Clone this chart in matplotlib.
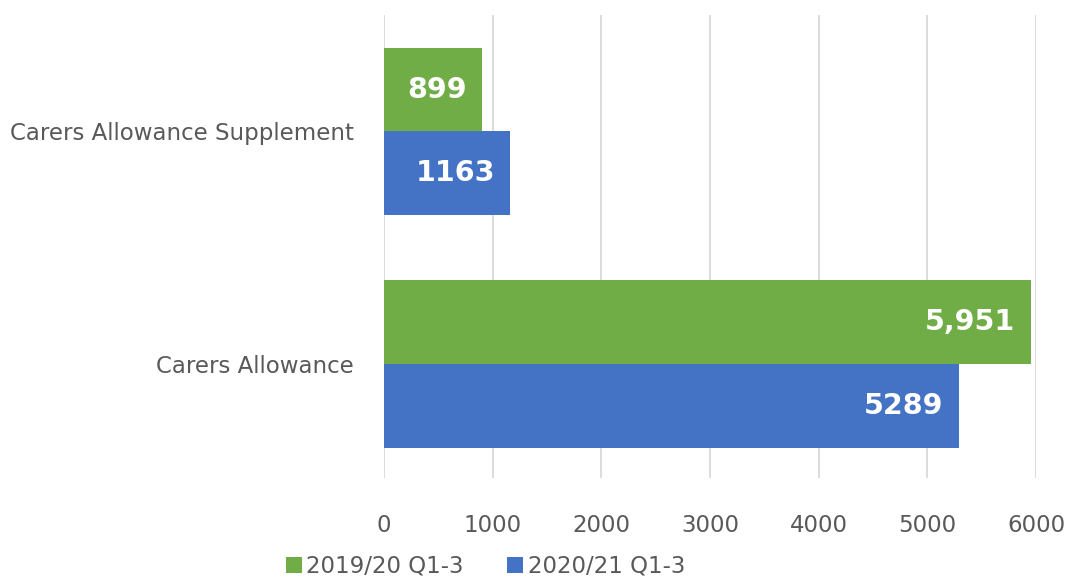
import numpy as np
import matplotlib.pyplot as plt

categories = ["Carers Allowance", "Carers Allowance Supplement"]
series_names = ["2019/20 Q1-3", "2020/21 Q1-3"]
values_1920 = [5951, 899]
values_2021 = [5289, 1163]
labels_1920 = ["5,951", "899"]
labels_2021 = ["5289", "1163"]
colors = ["#70AD47", "#4472C4"]

plt.rcParams['font.family'] = ['DejaVu Sans']

fig = plt.figure(figsize=(10.67, 5.78), dpi=100)
ax = fig.add_axes([0.36, 0.173, 0.611, 0.801])

y = np.arange(len(categories))
h = 0.359
b1 = ax.barh(y + h / 2, values_1920, height=h, color=colors[0], label=series_names[0])
b2 = ax.barh(y - h / 2, values_2021, height=h, color=colors[1], label=series_names[1])

for bars, labs in [(b1, labels_1920), (b2, labels_2021)]:
    for rect, lab in zip(bars, labs):
        ax.annotate(lab, (rect.get_width(), rect.get_y() + rect.get_height() / 2),
                    xytext=(-11, 0), textcoords="offset points",
                    ha="right", va="center", color="white",
                    fontsize=20.5, fontweight="bold")

ax.set_xlim(0, 6000)
ax.set_ylim(-0.49, 1.5)
ax.set_xticks(np.arange(0, 6001, 1000))
ax.set_yticks(y)
ax.set_yticklabels(categories)
ax.tick_params(axis="both", length=0, labelsize=16.5, colors="#595959")
ax.tick_params(axis="y", pad=22)
ax.tick_params(axis="x", pad=26)
ax.grid(axis="x", color="#d9d9d9", linewidth=1.3)
ax.set_axisbelow(True)
for s in ax.spines.values():
    s.set_visible(False)

leg = fig.legend(loc="lower center", bbox_to_anchor=(0.455, -0.035), ncol=2,
                 frameon=False, fontsize=16.5, handlelength=0.7, handleheight=0.7,
                 handletextpad=0.2, columnspacing=1.9)
for t in leg.get_texts():
    t.set_color("#595959")

fig.savefig("out.png", dpi=100)
